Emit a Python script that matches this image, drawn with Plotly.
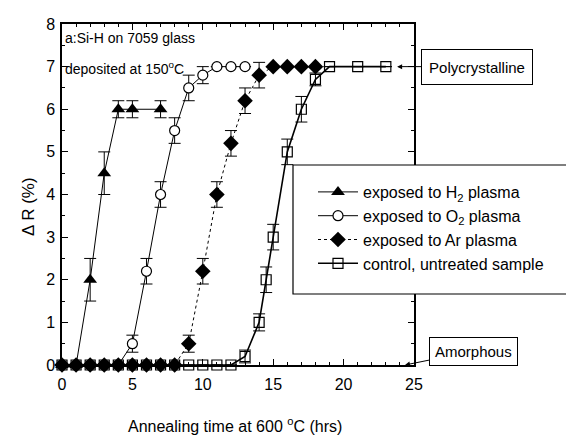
import plotly.graph_objects as go

# ---- data ----
h2_x = [0, 1, 2, 3, 4, 5, 7]
h2_y = [0, 0, 2.0, 4.5, 6.0, 6.0, 6.0]
h2_err = [0, 0, 0.5, 0.5, 0.2, 0.2, 0.2]

o2_x = [0, 1, 2, 3, 4, 5, 6, 7, 8, 9, 10, 11, 12, 13]
o2_y = [0, 0, 0, 0, 0, 0.5, 2.2, 4.0, 5.5, 6.5, 6.8, 7.0, 7.0, 7.0]
o2_err = [0, 0, 0, 0, 0, 0.2, 0.3, 0.3, 0.3, 0.3, 0.2, 0, 0, 0]

ar_x = [0, 1, 2, 3, 4, 5, 6, 7, 8, 9, 10, 11, 12, 13, 14, 15, 16, 17, 18]
ar_y = [0, 0, 0, 0, 0, 0, 0, 0, 0, 0.5, 2.2, 4.0, 5.2, 6.2, 6.8, 7.0, 7.0, 7.0, 7.0]
ar_err = [0, 0, 0, 0, 0, 0, 0, 0, 0, 0.2, 0.3, 0.3, 0.3, 0.3, 0.3, 0, 0, 0, 0]

ctl_x = [0, 1, 2, 3, 4, 5, 6, 7, 8, 9, 10, 11, 12, 13, 14, 14.5, 15, 16, 17, 18, 19, 21, 23]
ctl_y = [0, 0, 0, 0, 0, 0, 0, 0, 0, 0, 0, 0, 0, 0.2, 1.0, 2.0, 3.0, 5.0, 6.0, 6.7, 7.0, 7.0, 7.0]
ctl_err = [0] * 13 + [0.15, 0.2, 0.3, 0.3, 0.3, 0.3, 0.15, 0, 0, 0]

x_ticks = [0, 5, 10, 15, 20, 25]
y_ticks = [0, 1, 2, 3, 4, 5, 6, 7, 8]

FONT = "Arial, Liberation Sans, sans-serif"

# The page body adds an 8px margin; the figure is sized/offset to compensate.
OFF = 8
W, H = 574 - OFF, 445 - OFF
# plot-area geometry in screen pixels
L, R, T, B = 62, 414, 24, 365
PW, PH = R - L, B - T

def px(x):
    return (x - L) / PW

def py(y):
    return (B - y) / PH

fig = go.Figure()

def err(arr):
    return dict(type="data", array=arr, visible=True, color="black", thickness=1, width=6)

fig.add_trace(go.Scatter(
    x=ctl_x, y=ctl_y, mode="lines+markers", name="control, untreated sample",
    legendrank=4, cliponaxis=False,
    line=dict(color="black", width=1.6),
    marker=dict(symbol="square-open", size=10, color="black", line=dict(width=1.2)),
    error_y=err(ctl_err)))

fig.add_trace(go.Scatter(
    x=o2_x, y=o2_y, mode="lines+markers", name="exposed to O<sub>2</sub> plasma",
    legendrank=2, cliponaxis=False,
    line=dict(color="black", width=1),
    marker=dict(symbol="circle", size=10, color="white", line=dict(width=1.2, color="black")),
    error_y=err(o2_err)))

fig.add_trace(go.Scatter(
    x=h2_x, y=h2_y, mode="lines+markers", name="exposed to H<sub>2</sub> plasma",
    legendrank=1, cliponaxis=False,
    line=dict(color="black", width=1),
    marker=dict(symbol="triangle-up", size=12, color="black"),
    error_y=err(h2_err)))

fig.add_trace(go.Scatter(
    x=ar_x, y=ar_y, mode="lines+markers", name="exposed to Ar plasma",
    legendrank=3, cliponaxis=False,
    line=dict(color="black", width=1, dash="dot"),
    marker=dict(symbol="diamond", size=12, color="black"),
    error_y=err(ar_err)))

axis_common = dict(
    showline=True, linecolor="black", linewidth=1.5, mirror="allticks",
    ticks="inside", tickcolor="black", ticklen=6, tickwidth=1,
    showgrid=False, zeroline=False,
    tickfont=dict(family=FONT, size=16, color="black"),
)

fig.update_xaxes(range=[0, 25], tickmode="array", tickvals=x_ticks,
                 minor=dict(dtick=1, ticks="inside", ticklen=3, tickcolor="black"),
                 ticklabelstandoff=4, **axis_common)
fig.update_yaxes(range=[0, 8], tickmode="array", tickvals=y_ticks,
                 minor=dict(dtick=0.5, ticks="inside", ticklen=3, tickcolor="black"),
                 ticklabelstandoff=2, **axis_common)

# legend frame
fig.add_shape(type="rect", xref="paper", yref="paper",
              x0=px(293), x1=px(572), y0=py(294), y1=py(165),
              line=dict(color="black", width=1.2), fillcolor="white", layer="above")

annotations = [
    dict(text="a:Si-H on 7059 glass", xref="paper", yref="paper",
         x=px(63), y=py(38), xanchor="left", yanchor="middle", showarrow=False,
         font=dict(family=FONT, size=14, color="black")),
    dict(text="deposited at 150<sup>o</sup>C", xref="paper", yref="paper",
         x=px(63), y=py(68), xanchor="left", yanchor="middle", showarrow=False,
         font=dict(family=FONT, size=14, color="black")),
    dict(text="Polycrystalline", x=23.8, y=7, xref="x", yref="y",
         showarrow=True, ax=80, ay=0, arrowhead=2, arrowsize=1, arrowwidth=1,
         arrowcolor="black", bordercolor="black", borderwidth=1, borderpad=5,
         width=100, height=24,
         bgcolor="white", font=dict(family=FONT, size=15, color="black")),
    dict(text="Amorphous", x=24.36, y=0, xref="x", yref="y",
         showarrow=True, ax=69, ay=-14, arrowhead=2, arrowsize=1, arrowwidth=1,
         arrowcolor="black", bordercolor="black", borderwidth=1, borderpad=5,
         bgcolor="white", font=dict(family=FONT, size=15, color="black")),
    dict(text="\u0394 R (%)", xref="paper", yref="paper",
         x=px(28), y=py(207), xanchor="center", yanchor="middle",
         textangle=-90, showarrow=False, font=dict(family=FONT, size=17, color="black")),
    dict(text="Annealing time at 600 <sup>o</sup>C (hrs)", xref="paper", yref="paper",
         x=px(235), y=py(425), xanchor="center", yanchor="middle",
         showarrow=False, font=dict(family=FONT, size=16, color="black")),
]

fig.update_layout(
    width=W, height=H,
    margin=dict(l=L - OFF, r=574 - R, t=T - OFF, b=445 - B, autoexpand=False),
    plot_bgcolor="white", paper_bgcolor="white",
    showlegend=True,
    legend=dict(x=px(313), y=py(175), xanchor="left", yanchor="top",
                bgcolor="rgba(0,0,0,0)", borderwidth=0, itemwidth=40,
                font=dict(family=FONT, size=16, color="black"),
                tracegroupgap=0),
    annotations=annotations,
)

fig.write_html("out.html")
